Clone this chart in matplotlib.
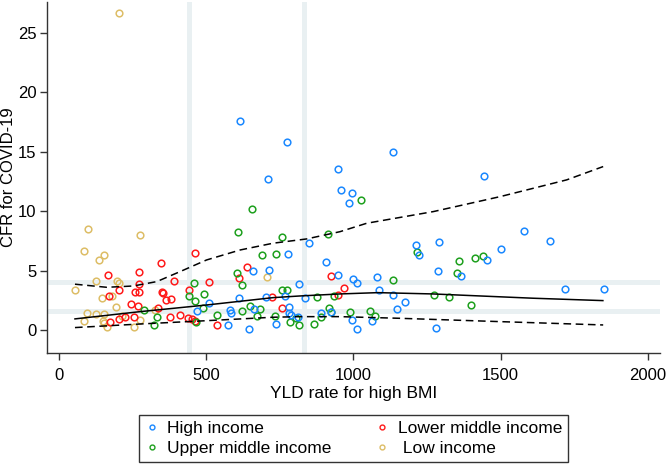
import matplotlib
matplotlib.use("Agg")
import matplotlib.pyplot as plt
from matplotlib.lines import Line2D

plt.rcParams['font.family'] = ['Liberation Sans', 'DejaVu Sans']

# ---------------- data ----------------
low_x = [204, 97, 85, 153, 137, 274, 54, 127, 196, 204, 147, 179, 96, 125, 154, 194,
         86, 148, 153, 162, 274, 256, 705, 326, 214]
low_y = [26.7, 8.48, 6.68, 6.31, 5.87, 8.0, 3.34, 4.12, 4.12, 3.98, 2.67, 2.89, 1.43, 1.32,
         1.37, 1.96, 0.78, 0.78, 0.56, 0.25, 0.84, 0.25, 4.46, 1.66, 1.18]

lowmid_x = [462, 345, 271, 167, 273, 205, 168, 257, 273, 349, 352, 391, 509, 440, 363, 381,
            243, 268, 337, 639, 611, 724, 757, 923, 968, 946, 173, 204, 225, 253, 378, 411,
            439, 453, 537, 461]
lowmid_y = [6.51, 5.6, 4.86, 4.63, 3.85, 3.39, 2.86, 3.2, 3.2, 3.2, 3.11, 4.12, 4.07, 3.32,
            2.51, 2.61, 2.2, 2.05, 1.83, 5.33, 4.35, 2.8, 1.83, 4.52, 3.51, 2.95, 0.7, 0.91,
            1.07, 1.12, 1.12, 1.26, 0.98, 0.91, 0.4, 0.76]

upmid_x = [654, 609, 756, 912, 690, 736, 603, 621, 457, 440, 491, 460, 488, 758, 774, 876,
           934, 289, 333, 323, 464, 538, 621, 650, 683, 672, 734, 785, 816, 867, 888, 916,
           1025, 1214, 1359, 1413, 1441, 1134, 1350, 1272, 1325, 1399, 925, 988, 1056, 1072, 805]
upmid_y = [10.19, 8.25, 7.8, 8.08, 6.29, 6.37, 4.82, 3.79, 3.97, 2.88, 3.06, 2.47, 1.88, 3.34,
           3.34, 2.75, 2.82, 1.67, 1.05, 0.42, 0.67, 1.24, 1.57, 2.05, 1.79, 1.15, 1.18, 0.65,
           0.4, 0.53, 1.09, 1.88, 10.91, 6.52, 5.81, 6.06, 6.23, 4.18, 4.82, 2.95, 2.75, 2.1,
           1.49, 1.54, 1.57, 1.2, 1.0]

high_x = [616, 773, 710, 947, 1134, 959, 994, 986, 1443, 850, 777, 908, 658, 712, 816, 948,
          612, 703, 767, 835, 468, 510, 581, 584, 663, 780, 782, 788, 574, 644, 737, 812,
          891, 924, 1213, 1290, 1224, 1580, 1666, 1501, 1453, 997, 1013, 1081, 1088, 1286,
          1364, 1135, 1718, 1851, 1174, 1147, 996, 1062, 1013, 1280]
high_y = [17.57, 15.85, 12.74, 13.53, 15.0, 11.74, 11.5, 10.69, 12.98, 7.32, 6.42, 5.7, 4.97,
          5.05, 3.87, 4.65, 2.72, 2.8, 2.84, 2.67, 1.56, 2.25, 1.68, 1.41, 1.77, 1.91, 1.41,
          1.24, 0.45, 0.08, 0.53, 1.07, 1.39, 1.49, 7.17, 7.38, 6.3, 8.33, 7.45, 6.84, 5.89,
          4.27, 3.93, 4.49, 3.37, 4.97, 4.52, 2.95, 3.45, 3.45, 2.33, 1.79, 0.82, 0.78, 0.06,
          0.14]

# fitted curve and confidence band
fit_x = [54, 275, 501, 727, 818, 954, 1083, 1270, 1610, 1847]
fit_y = [0.93, 1.54, 2.10, 2.72, 2.86, 3.03, 3.14, 3.03, 2.67, 2.47]
ci_hi_x = [54, 162, 252, 332, 411, 501, 615, 727, 841, 954, 1045, 1271, 1498, 1724, 1848]
ci_hi_y = [3.85, 3.59, 3.70, 4.07, 4.91, 5.89, 6.73, 7.30, 7.66, 8.27, 8.98, 9.96, 11.22, 12.63, 13.75]
ci_lo_x = [54, 275, 501, 727, 818, 954, 1158, 1498, 1848]
ci_lo_y = [0.20, 0.50, 0.78, 1.07, 1.12, 1.12, 0.98, 0.70, 0.42]

# reference lines
ref_x = [442, 832]
ref_y = [4.04, 1.6]

groups = ["High income", "Upper middle income", "Lower middle income", "Low income"]
colors = {"High income": "#1a88ff", "Upper middle income": "#1ea01e",
          "Lower middle income": "#ff1a1a", "Low income": "#ddbd66"}
data = {"High income": (high_x, high_y), "Upper middle income": (upmid_x, upmid_y),
        "Lower middle income": (lowmid_x, lowmid_y), "Low income": (low_x, low_y)}

# ---------------- figure ----------------
fig = plt.figure(figsize=(6.69, 4.69), dpi=100)
ax = fig.add_axes([47 / 669, 1 - 353 / 469, (660 - 47) / 669, (353 - 2) / 469])
ax.set_xlim(-41, 2041)
ax.set_ylim(-1.94, 27.6)

band = "#e9f0f2"
for v in ref_x:
    ax.axvline(v, color=band, lw=3.6, zorder=1)
for v in ref_y:
    ax.axhline(v, color=band, lw=3.6, zorder=1)

for g in ["Low income", "Lower middle income", "Upper middle income", "High income"]:
    xs, ys = data[g]
    ax.plot(xs, ys, ls="none", marker="o", ms=4.8, mfc="none", mec=colors[g], mew=1.1, zorder=3)

ax.plot(fit_x, fit_y, color="black", lw=1.1, zorder=4)
ax.plot(ci_hi_x, ci_hi_y, color="black", lw=1.1, ls=(0, (5, 3)), zorder=4)
ax.plot(ci_lo_x, ci_lo_y, color="black", lw=1.1, ls=(0, (5, 3)), zorder=4)

for s in ["top", "right"]:
    ax.spines[s].set_visible(False)
for s in ["left", "bottom"]:
    ax.spines[s].set_linewidth(1.0)
    ax.spines[s].set_color("#333333")

ax.set_xticks([0, 500, 1000, 1500, 2000])
ax.set_yticks([0, 5, 10, 15, 20, 25])
ax.tick_params(axis="both", labelsize=12, length=5, width=1.0, color="#333333")
ax.tick_params(axis="x", pad=6)
ax.tick_params(axis="y", pad=2.5)
ax.set_xlabel("YLD rate for high BMI", fontsize=12.5, labelpad=2)
ax.set_ylabel("CFR for COVID-19", fontsize=12)
ax.yaxis.set_label_coords(-0.051, 0.5)

handles = [Line2D([], [], ls="none", marker="o", ms=3.5, mfc="none", mec=colors[g], mew=1.0)
           for g in ["High income", "Upper middle income", "Lower middle income", "Low income"]]
labels = ["High income", "Upper middle income", "Lower middle income", " Low income"]
leg = fig.legend(handles, labels, ncol=2, loc="lower center", bbox_to_anchor=(0.528, -0.004),
                 fontsize=12.5, frameon=True, fancybox=False, edgecolor="black",
                 handlelength=0.8, handletextpad=0.5, columnspacing=2.5,
                 borderpad=0.35, labelspacing=0.3)
leg.get_frame().set_linewidth(1.0)

fig.savefig("out.png", dpi=100)
